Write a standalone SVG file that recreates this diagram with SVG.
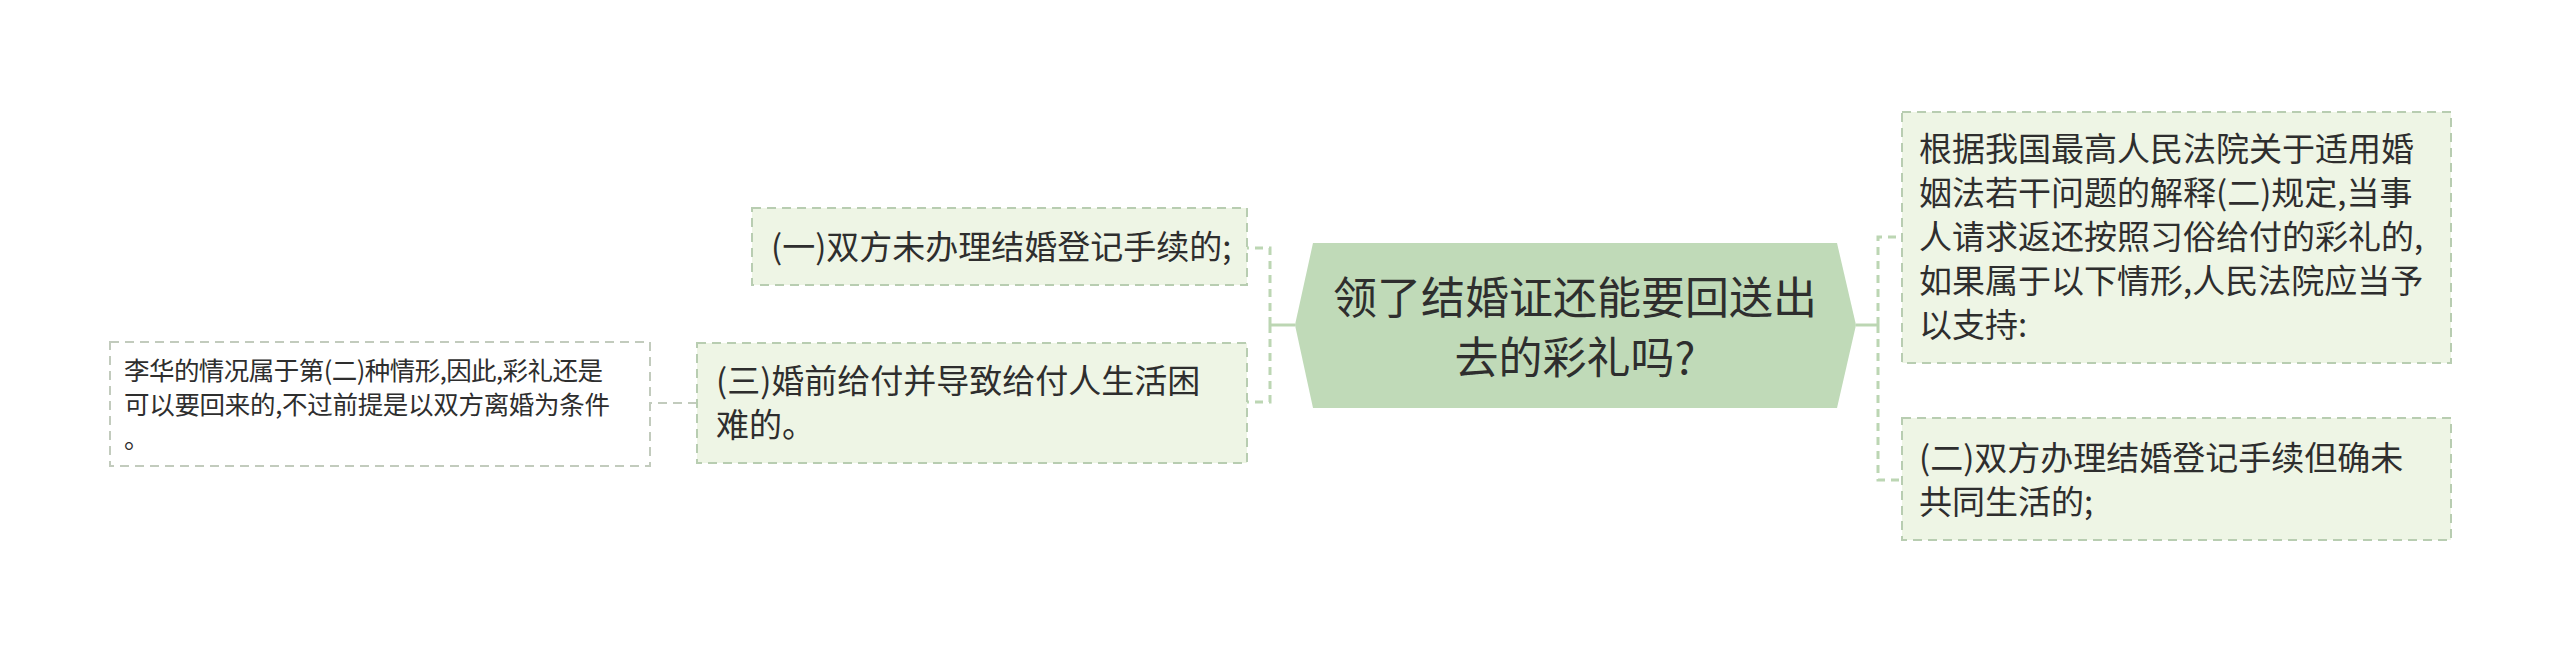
<svg xmlns="http://www.w3.org/2000/svg" width="2560" height="651" viewBox="0 0 2560 651">
<style>
.txt{font-family:"Noto Sans CJK SC","Noto Sans",sans-serif;fill:#2e2e2e}
.box{fill:#eef5e5;stroke:#b8cdb1;stroke-width:2;stroke-dasharray:9 6}
.leaf{fill:#ffffff;stroke:#c2cbbd;stroke-width:2;stroke-dasharray:9 6}
.solid{fill:none;stroke:#bcd6b3;stroke-width:3}
.dash{fill:none;stroke:#bcd6b3;stroke-width:3;stroke-dasharray:8 6}
.thin{fill:none;stroke:#c2cbbd;stroke-width:2;stroke-dasharray:9 6}
</style>
<rect width="2560" height="651" fill="#ffffff"/>
<g id="connectors">
<path class="solid" d="M1295,325 H1270"/>
<path class="dash" d="M1270,325 V248 H1247"/>
<path class="dash" d="M1270,325 V402 H1247"/>
<path class="solid" d="M1856,325 H1878"/>
<path class="dash" d="M1878,325 V237 H1902"/>
<path class="dash" d="M1878,325 V480 H1902"/>
<path class="thin" d="M697,403 H650"/>
</g>
<g id="root">
<polygon points="1295,325 1313,243 1837,243 1856,325 1837,408 1313,408" fill="#c0dab8"/>
<text class="txt" font-size="44" text-anchor="middle" x="1575" y="314">领了结婚证还能要回送出</text>
<text class="txt" font-size="44" text-anchor="middle" x="1575" y="374">去的彩礼吗?</text>
</g>
<g id="node-r1">
<rect class="box" x="1902" y="112" width="549" height="251"/>
<text class="txt" font-size="33" x="1919" y="161">根据我国最高人民法院关于适用婚</text>
<text class="txt" font-size="33" x="1919" y="205">姻法若干问题的解释(二)规定,当事</text>
<text class="txt" font-size="33" x="1919" y="249">人请求返还按照习俗给付的彩礼的,</text>
<text class="txt" font-size="33" x="1919" y="293">如果属于以下情形,人民法院应当予</text>
<text class="txt" font-size="33" x="1919" y="337">以支持:</text>
</g>
<g id="node-r2">
<rect class="box" x="1902" y="418" width="549" height="122"/>
<text class="txt" font-size="33" x="1919" y="470">(二)双方办理结婚登记手续但确未</text>
<text class="txt" font-size="33" x="1919" y="514">共同生活的;</text>
</g>
<g id="node-l1">
<rect class="box" x="752" y="208" width="495" height="77"/>
<text class="txt" font-size="33" x="771" y="259">(一)双方未办理结婚登记手续的;</text>
</g>
<g id="node-l2">
<rect class="box" x="697" y="343" width="550" height="120"/>
<text class="txt" font-size="33" x="716" y="393">(三)婚前给付并导致给付人生活困</text>
<text class="txt" font-size="33" x="716" y="437">难的。</text>
</g>
<g id="node-leaf">
<rect class="leaf" x="110" y="342" width="540" height="124"/>
<text class="txt" font-size="25.5" x="124" y="380" textLength="479" lengthAdjust="spacing">李华的情况属于第(二)种情形,因此,彩礼还是</text>
<text class="txt" font-size="25.5" x="124" y="414" textLength="486" lengthAdjust="spacing">可以要回来的,不过前提是以双方离婚为条件</text>
<text class="txt" font-size="25.5" x="124" y="448">。</text>
</g>
</svg>
